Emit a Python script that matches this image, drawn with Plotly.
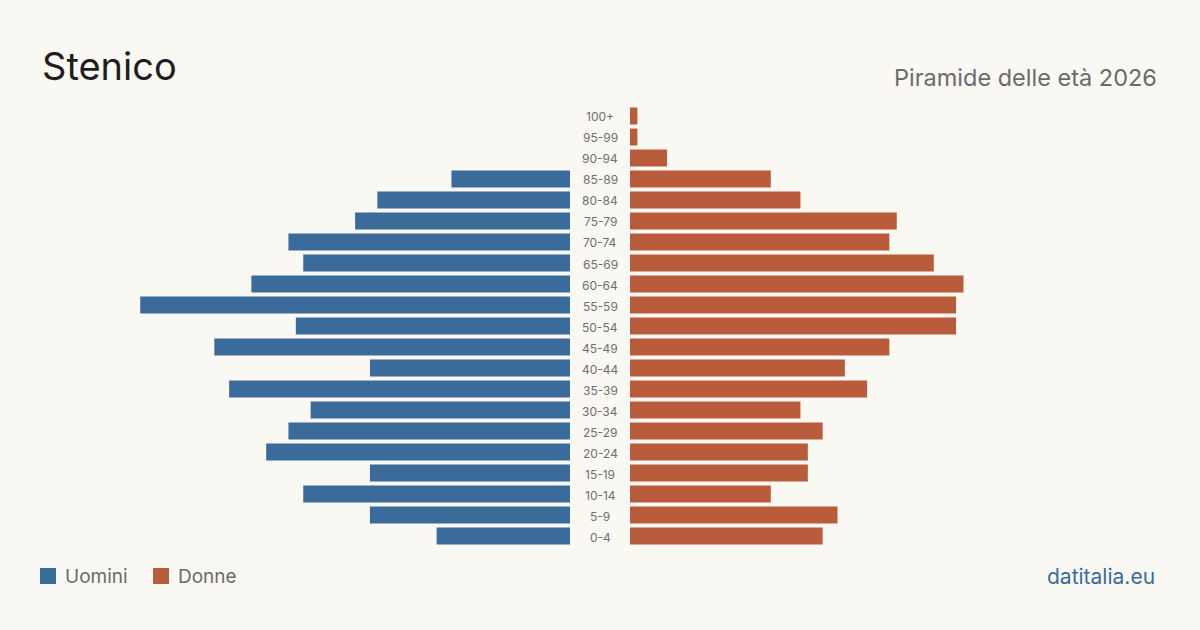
import plotly.graph_objects as go

age_groups = ["0-4", "5-9", "10-14", "15-19", "20-24", "25-29", "30-34", "35-39",
              "40-44", "45-49", "50-54", "55-59", "60-64", "65-69", "70-74",
              "75-79", "80-84", "85-89", "90-94", "95-99", "100+"]
men = [18, 27, 36, 27, 41, 38, 35, 46, 27, 48, 37, 58, 43, 36, 38, 29, 26, 16, 0, 0, 0]
women = [26, 28, 19, 24, 24, 26, 23, 32, 29, 35, 44, 44, 45, 41, 35, 36, 23, 19, 5, 1, 1]

BLUE = "#3b6b9b"
ORANGE = "#b95c3c"
BG = "#f9f8f3"
FONT = "Inter"

W, H = 1200, 630
xmax = 470 / 7.41

fig = go.Figure()
fig.add_trace(go.Bar(y=age_groups, x=men, orientation="h", marker_color=BLUE,
                     marker_line_width=0,
                     width=0.8, xaxis="x", yaxis="y", name="Uomini", showlegend=False,
                     hoverinfo="x+y"))
fig.add_trace(go.Bar(y=age_groups, x=women, orientation="h", marker_color=ORANGE,
                     marker_line_width=0,
                     width=0.8, xaxis="x2", yaxis="y2", name="Donne", showlegend=False,
                     hoverinfo="x+y"))

ydom = [1 - 546.5 / H, 1 - 105.5 / H]
yax = dict(domain=ydom, range=[-0.5, 20.5], showticklabels=False, showgrid=False,
           zeroline=False, showline=False, type="category",
           categoryorder="array", categoryarray=age_groups)

fig.update_layout(
    width=W, height=H,
    margin=dict(l=0, r=0, t=0, b=0),
    paper_bgcolor=BG, plot_bgcolor=BG,
    font=dict(family=FONT),
    xaxis=dict(domain=[100 / W, 570 / W], range=[xmax, 0], visible=False, fixedrange=True),
    xaxis2=dict(domain=[630 / W, 1100 / W], range=[0, xmax], visible=False, fixedrange=True),
    yaxis=dict(anchor="x", **yax),
    yaxis2=dict(anchor="x2", **yax),
    bargap=0.2,
)

annotations = []
for g in age_groups:
    annotations.append(dict(x=0.5, xref="paper", y=g, yref="y", yshift=-1, text=g,
                            showarrow=False, xanchor="center", yanchor="middle",
                            font=dict(size=12, color="#6f6f6f", family=FONT)))

annotations += [
    dict(x=40 / W, y=1 - 66 / H, xref="paper", yref="paper", text="Stenico", showarrow=False,
         xanchor="left", yanchor="middle", font=dict(size=38, color="#1e1e1e", family=FONT)),
    dict(x=1159 / W, y=1 - 77 / H, xref="paper", yref="paper", text="Piramide delle età 2026",
         showarrow=False, xanchor="right", yanchor="middle",
         font=dict(size=23.5, color="#6b6b6b", family=FONT)),
    dict(x=63 / W, y=1 - 576 / H, xref="paper", yref="paper", text="Uomini", showarrow=False,
         xanchor="left", yanchor="middle", font=dict(size=19, color="#6b6b6b", family=FONT)),
    dict(x=176 / W, y=1 - 576 / H, xref="paper", yref="paper", text="Donne", showarrow=False,
         xanchor="left", yanchor="middle", font=dict(size=19, color="#6b6b6b", family=FONT)),
    dict(x=1157 / W, y=1 - 576 / H, xref="paper", yref="paper", text="datitalia.eu",
         showarrow=False, xanchor="right", yanchor="middle",
         font=dict(size=21, color="#3b6b9b", family=FONT)),
]
fig.update_layout(annotations=annotations)

shapes = [
    dict(type="rect", xref="paper", yref="paper", x0=40 / W, x1=56 / W,
         y0=1 - 584 / H, y1=1 - 568 / H, fillcolor=BLUE, line=dict(width=0)),
    dict(type="rect", xref="paper", yref="paper", x0=153 / W, x1=169 / W,
         y0=1 - 584 / H, y1=1 - 568 / H, fillcolor=ORANGE, line=dict(width=0)),
]
fig.update_layout(shapes=shapes)

fig.write_html("out.html")
